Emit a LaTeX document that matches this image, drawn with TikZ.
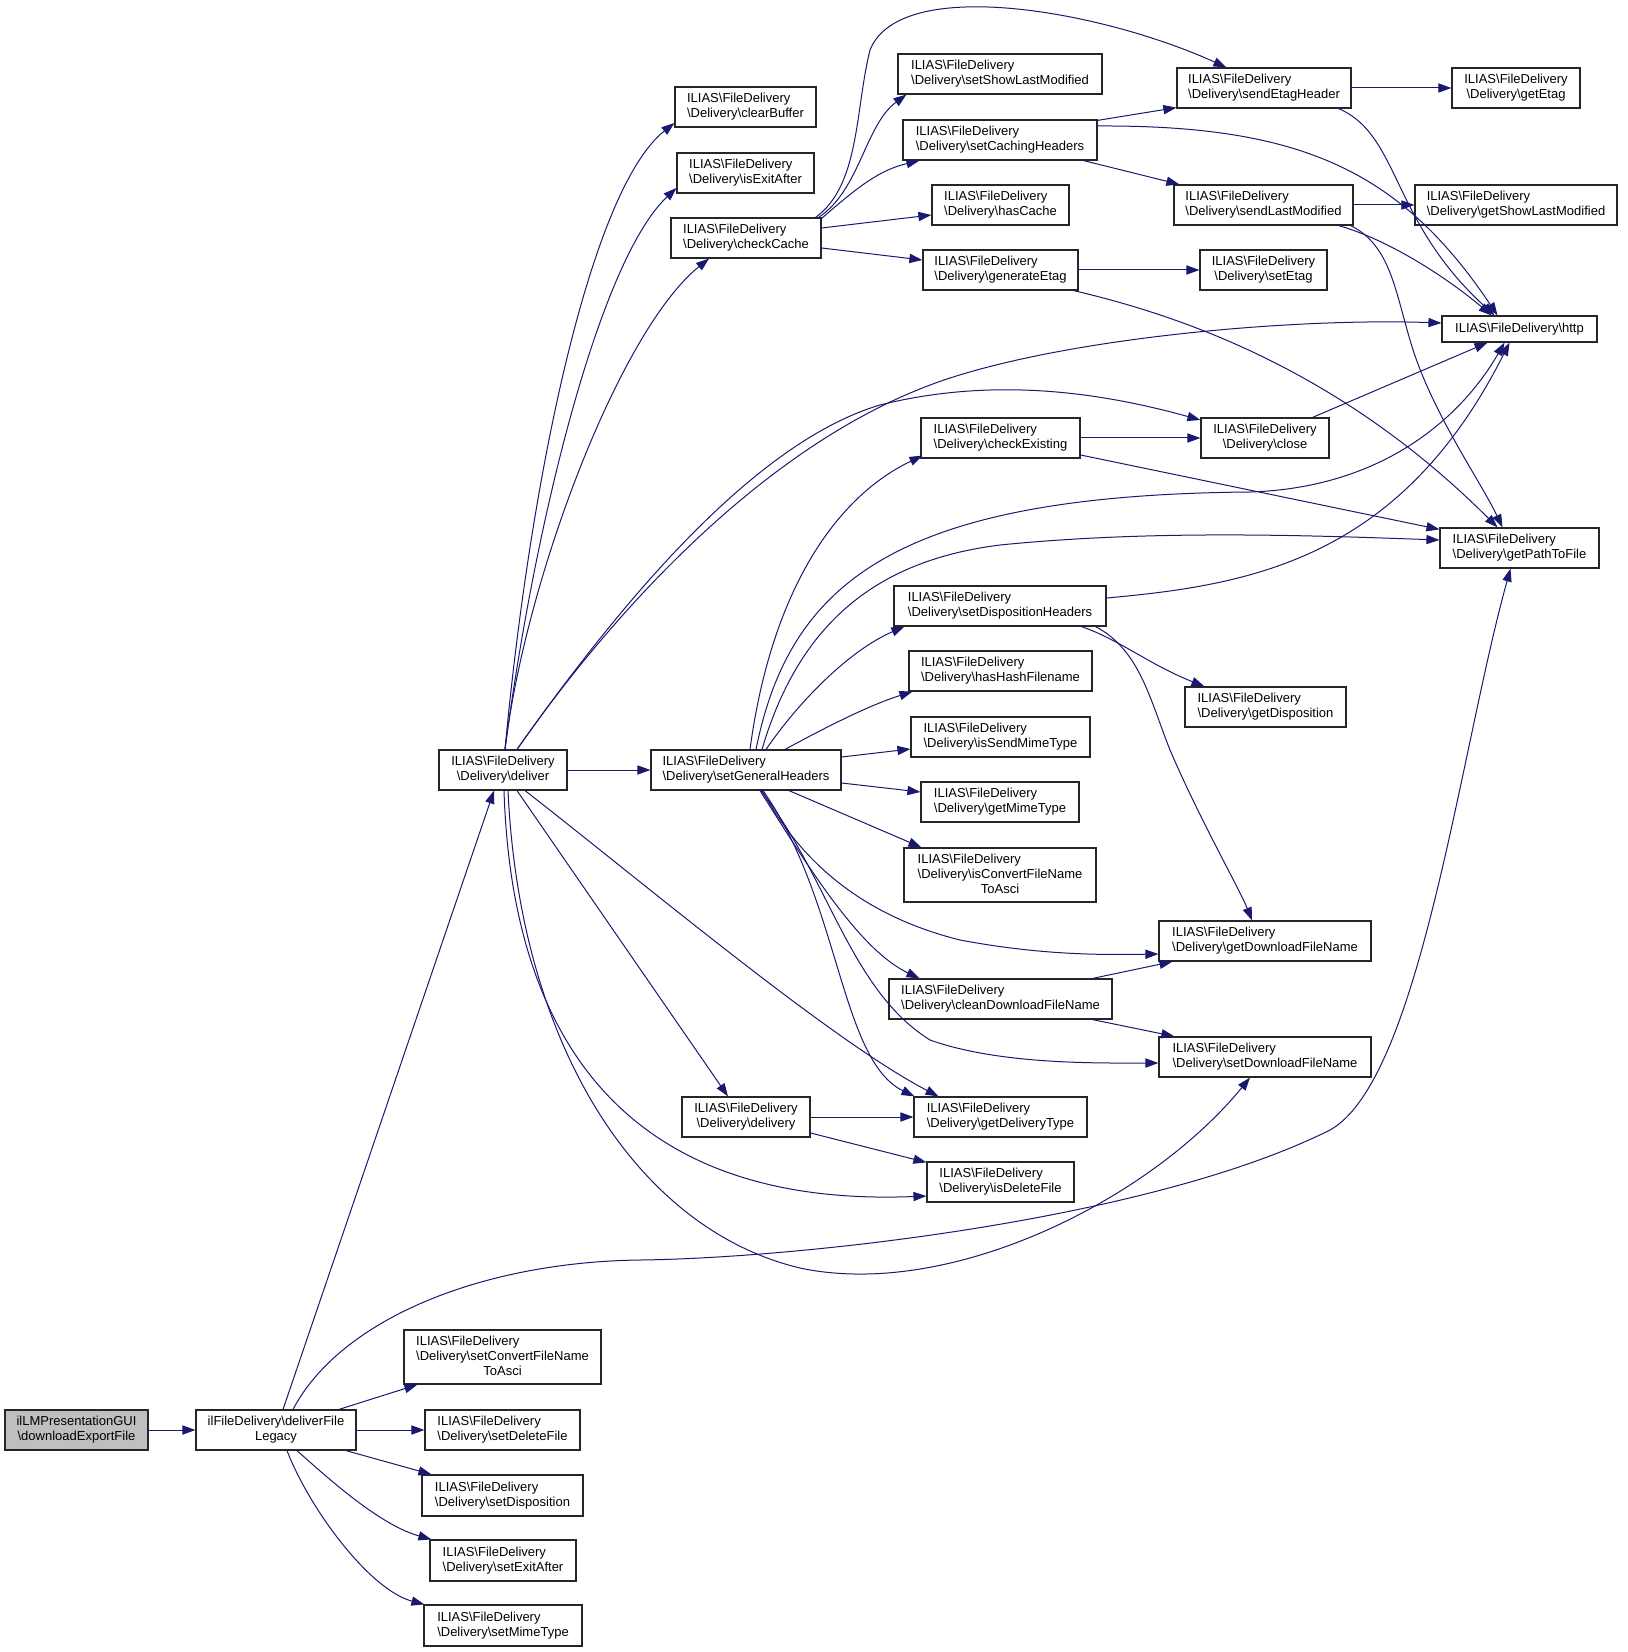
\documentclass[tikz,border=0pt]{standalone}
\usepackage{fontspec}
\setmainfont{Liberation Sans}
\usetikzlibrary{arrows.meta,calc}
\definecolor{edgecol}{HTML}{191970}
\definecolor{guifill}{HTML}{BFBFBF}
\newcommand\bsl{\textbackslash}
\newcommand\twolines[2]{\begin{tabular}{@{}l@{}}#1\\\multicolumn{1}{@{}c@{}}{#2}\end{tabular}}
\newcommand\threelines[3]{\begin{tabular}{@{}l@{}}#1\\#2\\\multicolumn{1}{@{}c@{}}{#3}\end{tabular}}
\newcommand\ilias[1]{\twolines{ILIAS\bsl FileDelivery}{\bsl Delivery\bsl #1}}
\tikzset{
  box/.style={draw=black!85, line width=0.6pt, inner sep=0pt, fill=white,
    font=\fontsize{6.5}{7.5}\selectfont, minimum height=20pt},
  e/.style={draw=edgecol, line width=0.5pt, -{Triangle[length=6.5pt,width=4.6pt]}, edgecol}
}
\begin{document}
\begin{tikzpicture}[x=0.5pt,y=-0.5pt]
\fill[white] (0,0) rectangle (1627,1652);
\useasboundingbox (0,0) rectangle (1627,1652);
% nodes
\node[box, fill=guifill, minimum width=71.5pt] (gui) at (76.5,1430) {\twolines{ilLMPresentationGUI}{\bsl downloadExportFile}};
\node[box, minimum width=80pt] (legacy) at (276,1430) {\twolines{ilFileDelivery\bsl deliverFile}{Legacy}};
\node[box, minimum width=98.5pt, minimum height=27pt] (conv) at (502.5,1357) {\threelines{ILIAS\bsl FileDelivery}{\bsl Delivery\bsl setConvertFileName}{ToAsci}};
\node[box, minimum width=77.5pt] (setDeleteFile) at (502.5,1430) {\ilias{setDeleteFile}};
\node[box, minimum width=80.5pt, minimum height=20.5pt] (setDisposition) at (502.5,1495.5) {\ilias{setDisposition}};
\node[box, minimum width=73pt, minimum height=20.5pt] (setExitAfter) at (503,1560.5) {\ilias{setExitAfter}};
\node[box, minimum width=79pt, minimum height=20.5pt] (setMimeType) at (503,1625.5) {\ilias{setMimeType}};
\node[box, minimum width=64pt] (deliver) at (503,770) {\ilias{deliver}};
\node[box, minimum width=95pt] (setGH) at (746,770) {\ilias{setGeneralHeaders}};
\node[box, minimum width=70.5pt] (clearBuffer) at (745.5,107) {\ilias{clearBuffer}};
\node[box, minimum width=68.5pt] (isExitAfter) at (745.5,173) {\ilias{isExitAfter}};
\node[box, minimum width=75pt] (checkCache) at (746,238) {\ilias{checkCache}};
\node[box, minimum width=102pt] (setShowLM) at (1000,74) {\ilias{setShowLastModified}};
\node[box, minimum width=97pt] (setCH) at (1000,140) {\ilias{setCachingHeaders}};
\node[box, minimum width=68.5pt] (hasCache) at (1000.5,205) {\ilias{hasCache}};
\node[box, minimum width=77.5pt] (generateEtag) at (1000.5,270) {\ilias{generateEtag}};
\node[box, minimum width=87pt] (sendEtag) at (1264,88) {\ilias{sendEtagHeader}};
\node[box, minimum width=64pt] (getEtag) at (1516,88) {\ilias{getEtag}};
\node[box, minimum width=89.5pt] (sendLM) at (1263.5,205) {\ilias{sendLastModified}};
\node[box, minimum width=101pt] (getShowLM) at (1516,205) {\ilias{getShowLastModified}};
\node[box, minimum width=63.5pt] (setEtag) at (1263.5,270) {\ilias{setEtag}};
\node[box, minimum width=77.5pt, minimum height=13pt] (http) at (1519.5,329) {ILIAS\bsl FileDelivery\bsl http};
\node[box, minimum width=79.5pt] (checkExisting) at (1000.5,438) {\ilias{checkExisting}};
\node[box, minimum width=64pt] (close) at (1265,438) {\ilias{close}};
\node[box, minimum width=79.5pt] (getPathToFile) at (1519.5,548) {\ilias{getPathToFile}};
\node[box, minimum width=106pt] (setDispH) at (1000,606) {\ilias{setDispositionHeaders}};
\node[box, minimum width=91.5pt] (hasHash) at (1000.5,671) {\ilias{hasHashFilename}};
\node[box, minimum width=80.5pt] (getDisposition) at (1265.5,707) {\ilias{getDisposition}};
\node[box, minimum width=89.5pt] (isSend) at (1000.5,737) {\ilias{isSendMimeType}};
\node[box, minimum width=79pt] (getMime) at (1000,802) {\ilias{getMimeType}};
\node[box, minimum width=96pt, minimum height=27pt] (isConv) at (1000,875) {\threelines{ILIAS\bsl FileDelivery}{\bsl Delivery\bsl isConvertFileName}{ToAsci}};
\node[box, minimum width=106pt] (getDL) at (1265,941) {\ilias{getDownloadFileName}};
\node[box, minimum width=111.5pt] (cleanDL) at (1000.5,999) {\ilias{cleanDownloadFileName}};
\node[box, minimum width=106pt] (setDL) at (1265,1057) {\ilias{setDownloadFileName}};
\node[box, minimum width=64pt] (delivery) at (746,1117) {\ilias{delivery}};
\node[box, minimum width=86.5pt] (getDT) at (1000.5,1117) {\ilias{getDeliveryType}};
\node[box, minimum width=73.5pt] (isDeleteFile) at (1000.5,1182) {\ilias{isDeleteFile}};
% edges
\draw[e] (gui.east) -- (legacy.west);
\draw[e] ($(legacy.north)+(7,0)$) -- ($(deliver.south)+(-9,0)$);
\draw[e] ($(legacy.north)+(17,0)$) .. controls (340,1320) and (480,1262) .. (640,1260)
   .. controls (800,1258) and (1150,1220) .. (1330,1130)
   .. controls (1420,1080) and (1460,750) .. ($(getPathToFile.south)+(-9,0)$);
\draw[e] ($(legacy.north)+(63,0)$) -- ($(conv.south west)+(14,0)$);
\draw[e] (legacy.east) -- (setDeleteFile.west);
\draw[e] ($(legacy.south)+(70,0)$) -- ($(setDisposition.north west)+(10,0)$);
\draw[e] ($(legacy.south)+(21,0)$) .. controls (330,1480) and (380,1525) .. ($(setExitAfter.north west)+(2,0)$);
\draw[e] ($(legacy.south)+(11,0)$) .. controls (310,1510) and (370,1590) .. ($(setMimeType.north west)+(1,0)$);
% from deliver
\draw[e] (deliver.east) -- (setGH.west);
\draw[e] ($(deliver.north)+(2,0)$) .. controls (530,480) and (590,190) .. ($(clearBuffer.west)+(0,16)$);
\draw[e] ($(deliver.north)+(2,0)$) .. controls (535,520) and (600,260) .. ($(isExitAfter.west)+(0,15)$);
\draw[e] ($(deliver.north)+(2,0)$) .. controls (525,580) and (620,330) .. ($(checkCache.south)+(-37,0)$);
\draw[e] ($(deliver.north)+(14,0)$) .. controls (600,630) and (760,440) .. (950,378)
   .. controls (1080,336) and (1300,318) .. ($(http.west)+(0,-6)$);
\draw[e] ($(deliver.north)+(14,0)$) .. controls (605,625) and (745,445) .. (880,405)
   .. controls (1000,375) and (1110,395) .. ($(close.west)+(0,-18)$);
\draw[e] ($(deliver.south)+(14,0)$) -- ($(delivery.north)+(-18,0)$);
\draw[e] ($(deliver.south)+(22,0)$) .. controls (640,880) and (830,1040) .. ($(getDT.north)+(-62,0)$);
\draw[e] ($(deliver.south)+(1,0)$) .. controls (510,980) and (580,1210) .. ($(isDeleteFile.west)+(0,14)$);
\draw[e] ($(deliver.south)+(5,0)$) .. controls (520,1050) and (640,1230) .. (800,1268)
   .. controls (950,1300) and (1150,1200) .. ($(setDL.south)+(-15,0)$);
% from setGeneralHeaders
\draw[e] ($(setGH.north)+(4,0)$) .. controls (770,600) and (830,500) .. ($(checkExisting.south west)+(2,-3)$);
\draw[e] ($(setGH.north)+(10,0)$) .. controls (790,580) and (900,495) .. (1250,492)
   .. controls (1380,488) and (1460,420) .. ($(http.south)+(-15,0)$);
\draw[e] ($(setGH.north)+(16,0)$) .. controls (800,620) and (880,560) .. (1000,545)
   .. controls (1150,530) and (1300,535) .. ($(getPathToFile.west)+(0,-8)$);
\draw[e] ($(setGH.north)+(20,0)$) .. controls (800,700) and (850,650) .. ($(setDispH.south west)+(11,0)$);
\draw[e] ($(setGH.north)+(39,0)$) .. controls (830,725) and (870,705) .. ($(hasHash.south west)+(4,0)$);
\draw[e] ($(setGH.east)+(0,-13)$) -- ($(isSend.west)+(0,12)$);
\draw[e] ($(setGH.east)+(0,13)$) -- ($(getMime.west)+(0,-10)$);
\draw[e] ($(setGH.south)+(43,0)$) -- ($(isConv.north west)+(18,0)$);
\draw[e] ($(setGH.south)+(14,0)$) .. controls (810,870) and (860,950) .. ($(cleanDL.north west)+(31,0)$);
\draw[e] ($(setGH.south)+(16,0)$) .. controls (800,860) and (860,915) .. (960,940)
   .. controls (1040,955) and (1100,955) .. ($(getDL.west)+(0,13)$);
\draw[e] ($(setGH.south)+(15,0)$) .. controls (830,880) and (850,990) .. (930,1040)
   .. controls (1000,1065) and (1100,1063) .. ($(setDL.west)+(0,6)$);
\draw[e] ($(setGH.south)+(17,0)$) .. controls (840,900) and (840,1060) .. ($(getDT.north west)+(1,0)$);
% from checkCache
\draw[e] ($(checkCache.north east)+(-3,0)$) .. controls (860,190) and (865,125) .. ($(setShowLM.south west)+(9,0)$);
\draw[e] ($(checkCache.north east)+(-6,0)$) .. controls (860,185) and (855,110) .. (870,50)
   .. controls (900,-25) and (1100,10) .. ($(sendEtag.north west)+(50,0)$);
\draw[e] ($(checkCache.north east)+(0,1)$) .. controls (860,185) and (880,170) .. ($(setCH.south west)+(17,0)$);
\draw[e] ($(checkCache.east)+(0,-10)$) -- ($(hasCache.west)+(0,10)$);
\draw[e] ($(checkCache.east)+(0,10)$) -- ($(generateEtag.west)+(0,-10)$);
% from setCachingHeaders
\draw[e] ($(setCH.north east)+(0,1)$) -- ($(sendEtag.south west)+(0,-1)$);
\draw[e] ($(setCH.east)+(0,-14)$) .. controls (1300,125) and (1400,170) .. ($(http.north)+(-22,0)$);
\draw[e] ($(setCH.south east)+(-14,0)$) -- ($(sendLM.north west)+(6,0)$);
% from sendEtagHeader
\draw[e] (sendEtag.east) -- (getEtag.west);
\draw[e] ($(sendEtag.south east)+(-13,0)$) .. controls (1400,135) and (1390,220) .. ($(http.north)+(-25,0)$);
% from sendLastModified
\draw[e] (sendLM.east) -- (getShowLM.west);
\draw[e] ($(sendLM.south east)+(-15,0)$) .. controls (1390,240) and (1450,280) .. ($(http.north)+(-28,0)$);
\draw[e] ($(sendLM.south east)+(-3,0)$) .. controls (1390,245) and (1395,290) .. (1410,340)
   .. controls (1430,410) and (1480,480) .. ($(getPathToFile.north)+(-17,0)$);
% from generateEtag
\draw[e] (generateEtag.east) -- (setEtag.west);
\draw[e] ($(generateEtag.south east)+(-5,0)$) .. controls (1200,320) and (1350,380) .. ($(getPathToFile.north)+(-22,0)$);
% from checkExisting
\draw[e] (checkExisting.east) -- (close.west);
\draw[e] ($(checkExisting.east)+(0,17)$) -- ($(getPathToFile.north west)+(0,2)$);
% from close
\draw[e] ($(close.north east)+(-17,0)$) -- ($(http.south)+(-32,0)$);
% from setDispositionHeaders
\draw[e] ($(setDispH.east)+(0,-8)$) .. controls (1250,585) and (1400,560) .. ($(http.south)+(-10,0)$);
\draw[e] ($(setDispH.south east)+(-25,0)$) .. controls (1120,640) and (1150,665) .. ($(getDisposition.north west)+(20,0)$);
\draw[e] ($(setDispH.south east)+(-11,0)$) .. controls (1140,650) and (1150,700) .. (1170,750)
   .. controls (1200,820) and (1240,890) .. ($(getDL.north)+(-13,0)$);
% from cleanDownloadFileName
\draw[e] ($(cleanDL.north east)+(-20,0)$) -- ($(getDL.south west)+(14,0)$);
\draw[e] ($(cleanDL.south east)+(-20,0)$) -- ($(setDL.north west)+(16,0)$);
% from delivery
\draw[e] (delivery.east) -- (getDT.west);
\draw[e] ($(delivery.east)+(0,16)$) -- ($(isDeleteFile.north west)+(0,1)$);
\end{tikzpicture}
\end{document}
